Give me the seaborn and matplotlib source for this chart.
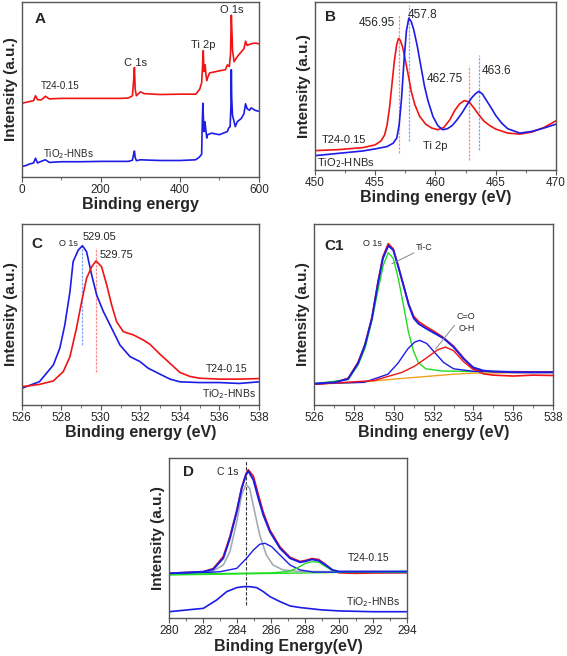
import numpy as np
import pandas as pd
import matplotlib
matplotlib.use("Agg")
import matplotlib.pyplot as plt
import seaborn as sns

sns.set_theme(style="ticks")
plt.rcParams['font.family'] = ['Liberation Sans', 'DejaVu Sans']

# ---------------- data ----------------
# Panel A: survey spectra
a_red_x = [0, 10, 20, 30, 35, 40, 50, 60, 70, 100, 150, 200, 250, 270, 280, 283, 285, 287, 290, 300, 310, 350, 400, 440,
           450, 455, 457, 459, 461, 463, 464, 466, 468, 470, 475, 490, 500, 515, 520, 525, 528, 530, 532, 533, 537, 545,
           555, 562, 566, 570, 580, 590, 600]
a_red_y = [0.42, 0.425, 0.43, 0.435, 0.463, 0.44, 0.44, 0.46, 0.445, 0.448, 0.448, 0.448, 0.448, 0.45, 0.463, 0.55, 0.624,
           0.50, 0.463, 0.485, 0.475, 0.47, 0.472, 0.472, 0.50, 0.537, 0.62, 0.72, 0.60, 0.62, 0.639, 0.58, 0.55, 0.565,
           0.593, 0.60, 0.605, 0.611, 0.639, 0.63, 0.70, 0.922, 0.80, 0.722, 0.657, 0.685, 0.713, 0.731, 0.774, 0.75,
           0.759, 0.763, 0.759]
a_blue_x = [0, 10, 20, 30, 35, 40, 50, 60, 70, 100, 150, 200, 250, 270, 280, 283, 285, 287, 290, 300, 350, 400, 440, 450,
            455, 456, 458, 460, 461, 463, 464, 466, 468, 470, 480, 500, 510, 520, 523, 527, 529, 530, 531, 533, 540, 545,
            555, 562, 566, 570, 576, 580, 590, 600]
a_blue_y = [0.059, 0.065, 0.074, 0.08, 0.107, 0.08, 0.09, 0.098, 0.083, 0.087, 0.087, 0.089, 0.089, 0.089, 0.096, 0.13,
            0.148, 0.11, 0.093, 0.098, 0.094, 0.094, 0.098, 0.115, 0.13, 0.25, 0.42, 0.30, 0.259, 0.315, 0.30, 0.259,
            0.222, 0.241, 0.25, 0.241, 0.25, 0.259, 0.278, 0.287, 0.40, 0.611, 0.45, 0.352, 0.287, 0.315, 0.333, 0.361,
            0.417, 0.389, 0.38, 0.394, 0.38, 0.374]

# Panel B: Ti 2p
b_red_x = [450, 452, 454, 455, 455.5, 455.8, 456.0, 456.2, 456.4, 456.6, 456.8, 456.95, 457.1, 457.3, 457.5, 457.8, 458.0,
           458.3, 458.7, 459.2, 459.7, 460.2, 460.7, 461.2, 461.6, 462.0, 462.4, 462.8, 463.2, 463.6, 464.0, 464.5, 465.0,
           466, 467, 468, 469, 470]
b_red_y = [0.115, 0.121, 0.133, 0.149, 0.173, 0.209, 0.268, 0.368, 0.507, 0.646, 0.746, 0.781, 0.769, 0.726, 0.656, 0.547,
           0.467, 0.388, 0.318, 0.272, 0.249, 0.239, 0.252, 0.298, 0.352, 0.392, 0.412, 0.404, 0.368, 0.328, 0.292, 0.264,
           0.243, 0.219, 0.213, 0.225, 0.252, 0.292]
b_blue_x = [450, 452, 454, 455, 456, 456.5, 456.8, 457.0, 457.2, 457.4, 457.6, 457.8, 458.0, 458.2, 458.5, 458.8, 459.1,
            459.4, 459.8, 460.2, 460.6, 461.0, 461.4, 461.8, 462.2, 462.6, 463.0, 463.3, 463.6, 463.9, 464.2, 464.6, 465.0,
            465.5, 466, 467, 468, 469, 470]
b_blue_y = [0.085, 0.099, 0.113, 0.125, 0.139, 0.159, 0.189, 0.268, 0.427, 0.646, 0.825, 0.901, 0.881, 0.835, 0.736, 0.616,
            0.497, 0.408, 0.318, 0.264, 0.239, 0.245, 0.264, 0.298, 0.338, 0.384, 0.427, 0.451, 0.467, 0.451, 0.417, 0.372,
            0.324, 0.278, 0.245, 0.219, 0.229, 0.249, 0.272]

# Panel C: O 1s comparison
c_blue_x = [526, 526.9, 527.6, 527.93, 528.18, 528.44, 528.6, 528.86, 529.07, 529.28, 529.54, 529.79, 530.13, 530.55,
            530.97, 531.48, 531.98, 532.4, 533, 533.5, 534, 535, 536, 537, 538]
c_blue_y = [0.092, 0.129, 0.221, 0.315, 0.442, 0.626, 0.792, 0.856, 0.880, 0.847, 0.718, 0.608, 0.516, 0.424, 0.331, 0.267,
            0.240, 0.203, 0.170, 0.143, 0.128, 0.124, 0.124, 0.119, 0.128]
c_red_x = [526, 526.9, 527.6, 528.1, 528.44, 528.77, 529.03, 529.28, 529.54, 529.76, 530.04, 530.3, 530.55, 530.8, 531.14,
           531.65, 532.15, 532.49, 533, 533.5, 534, 534.5, 535, 536, 537, 538]
c_red_y = [0.101, 0.114, 0.133, 0.184, 0.267, 0.424, 0.571, 0.700, 0.764, 0.796, 0.764, 0.663, 0.552, 0.460, 0.405, 0.387,
           0.359, 0.335, 0.280, 0.230, 0.180, 0.158, 0.148, 0.143, 0.143, 0.146]

# Panel C1: O 1s deconvolution
c1_fit_x = [526, 527, 527.7, 528.2, 528.55, 528.9, 529.2, 529.45, 529.72, 529.97, 530.2, 530.5, 530.75, 531.0, 531.25,
            531.6, 532.05, 532.5, 533, 533.5, 534, 534.5, 535, 536, 537, 538]
c1_fit_y = [0.118, 0.125, 0.144, 0.230, 0.331, 0.479, 0.672, 0.810, 0.880, 0.856, 0.773, 0.654, 0.552, 0.479, 0.448, 0.424,
            0.396, 0.368, 0.320, 0.256, 0.207, 0.190, 0.185, 0.181, 0.180, 0.180]
c1_data_y = [0.115, 0.123, 0.148, 0.236, 0.336, 0.486, 0.680, 0.820, 0.892, 0.862, 0.775, 0.655, 0.556, 0.490, 0.460,
             0.435, 0.405, 0.372, 0.325, 0.260, 0.200, 0.172, 0.165, 0.160, 0.165, 0.163]
c1_tic_x = [526, 527.7, 528.2, 528.55, 528.88, 529.22, 529.47, 529.72, 529.97, 530.22, 530.48, 530.73, 530.98, 531.23,
            531.6, 532.4, 534, 538]
c1_tic_y = [0.118, 0.140, 0.221, 0.313, 0.460, 0.644, 0.773, 0.842, 0.810, 0.700, 0.552, 0.405, 0.300, 0.235, 0.200, 0.188,
            0.185, 0.183]
c1_oh_x = [526, 528.5, 529.7, 530.2, 530.7, 531.05, 531.3, 531.65, 532.05, 532.5, 533, 534, 538]
c1_oh_y = [0.118, 0.125, 0.170, 0.230, 0.310, 0.348, 0.357, 0.340, 0.290, 0.235, 0.200, 0.186, 0.183]
c1_co_x = [526, 529, 530.4, 531.05, 531.7, 532.2, 532.6, 533.0, 533.5, 534, 535, 538]
c1_co_y = [0.115, 0.135, 0.180, 0.215, 0.265, 0.305, 0.320, 0.300, 0.240, 0.195, 0.183, 0.182]
c1_bg_x = [526, 528, 529, 530, 531, 532, 533, 534, 538]
c1_bg_y = [0.115, 0.124, 0.133, 0.143, 0.152, 0.161, 0.170, 0.176, 0.180]

# Panel D: C 1s
d_x = [280, 282.02, 282.6, 283.19, 283.58, 283.98, 284.27, 284.52, 284.66, 284.96, 285.25, 285.54, 285.93, 286.52, 287.11,
       287.7, 288.0, 288.4, 288.8, 289.2, 289.6, 290, 291, 292, 294]
d_fit_y = [0.280, 0.290, 0.305, 0.374, 0.498, 0.664, 0.809, 0.892, 0.917, 0.861, 0.747, 0.643, 0.539, 0.436, 0.374, 0.349,
           0.355, 0.367, 0.359, 0.332, 0.301, 0.291, 0.291, 0.291, 0.291]
d_data_y = [0.280, 0.290, 0.310, 0.385, 0.510, 0.672, 0.815, 0.900, 0.925, 0.885, 0.770, 0.660, 0.550, 0.445, 0.380, 0.354,
            0.360, 0.372, 0.366, 0.335, 0.300, 0.283, 0.280, 0.282, 0.284]
d_cc_x = [280, 282.5, 283.19, 283.58, 283.98, 284.27, 284.52, 284.74, 285.03, 285.33, 285.72, 286.11, 286.7, 287.7, 290, 294]
d_cc_y = [0.278, 0.290, 0.332, 0.415, 0.602, 0.768, 0.834, 0.809, 0.664, 0.519, 0.394, 0.332, 0.301, 0.291, 0.291, 0.291]
d_co_x = [280, 283, 283.98, 284.56, 284.96, 285.33, 285.64, 286.03, 286.52, 287.11, 287.7, 288.5, 294]
d_co_y = [0.273, 0.290, 0.311, 0.374, 0.425, 0.461, 0.467, 0.446, 0.394, 0.332, 0.301, 0.288, 0.285]
d_oc_x = [280, 284, 286, 287, 287.5, 288, 288.4, 288.8, 289.2, 289.6, 290, 294]
d_oc_y = [0.273, 0.280, 0.283, 0.291, 0.311, 0.342, 0.353, 0.349, 0.322, 0.297, 0.288, 0.286]
d_bg_x = [280, 294]
d_bg_y = [0.270, 0.292]
d_tio2_x = [280, 282.02, 282.8, 283.39, 283.98, 284.37, 284.74, 285.15, 285.54, 285.93, 286.52, 287.11, 287.7, 289, 290,
            292, 294]
d_tio2_y = [0.041, 0.062, 0.114, 0.166, 0.191, 0.197, 0.197, 0.191, 0.166, 0.135, 0.104, 0.077, 0.067, 0.052, 0.046,
            0.041, 0.041]

# ---------------- styling ----------------
RED = "#f01414"
BLUE = "#1c1ce6"
GREEN = "#22dd22"
GRAY = "#a3acb5"
ORANGE = "#f0a020"
W, H = 567, 656

fig = plt.figure(figsize=(W / 100, H / 100), dpi=100)


def make_ax(left, right, top, bottom):
    return fig.add_axes([left / W, 1 - bottom / H, (right - left) / W, (bottom - top) / H])


def style(ax, xlim, major, minor, xlabel):
    ax.set_xlim(*xlim)
    ax.set_ylim(0, 1)
    ax.set_xticks(np.arange(xlim[0], xlim[1] + 0.001, major))
    ax.set_xticks(np.arange(xlim[0], xlim[1] + 0.001, minor), minor=True)
    ax.set_yticks([])
    ax.tick_params(axis='x', which='major', direction='out', length=3.5, width=0.8, labelsize=8.5,
                   pad=1.5, color="#555555")
    ax.tick_params(axis='x', which='minor', direction='out', length=2, width=0.6, color="#555555")
    for s in ax.spines.values():
        s.set_color("#555555")
        s.set_linewidth(1.0)
    ax.set_xlabel(xlabel, fontsize=11.5, fontweight='bold', labelpad=1)
    ax.set_ylabel("Intensity (a.u.)", fontsize=11, fontweight='bold', labelpad=3)


def line(ax, x, y, color, lw=1.2):
    sns.lineplot(x=x, y=y, ax=ax, color=color, lw=lw, sort=False, estimator=None)


# Panel A
axA = make_ax(21.7, 259, 1.5, 177)
line(axA, a_red_x, a_red_y, RED)
line(axA, a_blue_x, a_blue_y, BLUE)
style(axA, (0, 600), 200, 100, "Binding energy")
axA.text(46, 0.90, "A", fontsize=11, fontweight='bold', ha='center', va='center')
axA.text(530, 0.95, "O 1s", fontsize=8, ha='center', va='center')
axA.text(460, 0.75, "Ti 2p", fontsize=8, ha='center', va='center')
axA.text(288, 0.65, "C 1s", fontsize=8, ha='center', va='center')
axA.text(97, 0.52, "T24-0.15", fontsize=7, ha='center', va='center')
axA.text(118, 0.13, "TiO$_2$-HNBs", fontsize=7, ha='center', va='center')

# Panel B
axB = make_ax(314.7, 556, 1.5, 170)
for xv, y0, y1, c in [(456.95, 0.10, 0.92, "#ff8a8a"), (457.8, 0.17, 0.98, "#7fa6ff"),
                      (462.75, 0.06, 0.62, "#ff8a8a"), (463.6, 0.12, 0.68, "#7fa6ff")]:
    axB.plot([xv, xv], [y0, y1], color=c, lw=0.9, ls=(0, (2, 1)))
line(axB, b_red_x, b_red_y, RED)
line(axB, b_blue_x, b_blue_y, BLUE)
style(axB, (450, 470), 5, 2.5, "Binding energy (eV)")
axB.text(451.3, 0.91, "B", fontsize=11, fontweight='bold', ha='center', va='center')
axB.text(455.15, 0.87, "456.95", fontsize=8.5, ha='center', va='center')
axB.text(458.95, 0.92, "457.8", fontsize=8.5, ha='center', va='center')
axB.text(460.8, 0.54, "462.75", fontsize=8.5, ha='center', va='center')
axB.text(465.1, 0.59, "463.6", fontsize=8.5, ha='center', va='center')
axB.text(452.4, 0.18, "T24-0.15", fontsize=8, ha='center', va='center')
axB.text(452.6, 0.04, "TiO$_2$-HNBs", fontsize=8, ha='center', va='center')
axB.text(460.0, 0.14, "Ti 2p", fontsize=8, ha='center', va='center')

# Panel C
axC = make_ax(21.7, 259, 224, 405)
axC.plot([529.05, 529.05], [0.33, 0.89], color="#7fa6ff", lw=0.9, ls=(0, (2, 1)))
axC.plot([529.75, 529.75], [0.18, 0.87], color="#ff8a8a", lw=0.9, ls=(0, (2, 1)))
line(axC, c_blue_x, c_blue_y, BLUE)
line(axC, c_red_x, c_red_y, RED)
style(axC, (526, 538), 2, 1, "Binding energy (eV)")
axC.text(526.75, 0.89, "C", fontsize=11, fontweight='bold', ha='center', va='center')
axC.text(528.35, 0.89, "O 1s", fontsize=6.5, ha='center', va='center')
axC.text(529.95, 0.93, "529.05", fontsize=8, ha='center', va='center')
axC.text(530.8, 0.83, "529.75", fontsize=8, ha='center', va='center')
axC.text(536.35, 0.20, "T24-0.15", fontsize=7.5, ha='center', va='center')
axC.text(536.5, 0.06, "TiO$_2$-HNBs", fontsize=7.5, ha='center', va='center')

# Panel C1
axC1 = make_ax(314.3, 553, 224, 405)
line(axC1, c1_bg_x, c1_bg_y, ORANGE, lw=1.0)
line(axC1, c1_fit_x, c1_data_y, RED)
line(axC1, c1_tic_x, c1_tic_y, GREEN, lw=1.0)
line(axC1, c1_oh_x, c1_oh_y, BLUE, lw=1.0)
line(axC1, c1_co_x, c1_co_y, RED, lw=1.0)
line(axC1, c1_fit_x, c1_fit_y, BLUE, lw=1.4)
style(axC1, (526, 538), 2, 1, "Binding energy (eV)")
axC1.text(527.0, 0.88, "C1", fontsize=11, fontweight='bold', ha='center', va='center')
axC1.text(528.9, 0.89, "O 1s", fontsize=6.5, ha='center', va='center')
axC1.text(531.5, 0.87, "Ti-C", fontsize=6.5, ha='center', va='center')
axC1.plot([531.0, 529.9], [0.84, 0.78], color="#888888", lw=0.7)
axC1.text(533.6, 0.49, "C=O", fontsize=6.5, ha='center', va='center')
axC1.text(533.65, 0.42, "O-H", fontsize=6.5, ha='center', va='center')
axC1.plot([533.05, 532.1], [0.44, 0.31], color="#888888", lw=0.7)

# Panel D
axD = make_ax(169, 407.3, 457.7, 618.3)
axD.plot([284.55, 284.55], [0.08, 0.985], color="#333333", lw=0.8, ls=(0, (3, 1.5)))
line(axD, d_bg_x, d_bg_y, GREEN, lw=1.0)
line(axD, d_x, d_data_y, RED)
line(axD, d_cc_x, d_cc_y, GRAY, lw=1.2)
line(axD, d_co_x, d_co_y, BLUE, lw=1.0)
line(axD, d_oc_x, d_oc_y, GREEN, lw=1.0)
line(axD, d_x, d_fit_y, BLUE, lw=1.4)
line(axD, d_tio2_x, d_tio2_y, BLUE)
style(axD, (280, 294), 2, 1, "Binding Energy(eV)")
axD.text(281.13, 0.91, "D", fontsize=11, fontweight='bold', ha='center', va='center')
axD.text(283.48, 0.91, "C 1s", fontsize=7.5, ha='center', va='center')
axD.text(291.7, 0.373, "T24-0.15", fontsize=7.5, ha='center', va='center')
axD.text(292.0, 0.10, "TiO$_2$-HNBs", fontsize=7.5, ha='center', va='center')

fig.savefig("out.png", dpi=100)
